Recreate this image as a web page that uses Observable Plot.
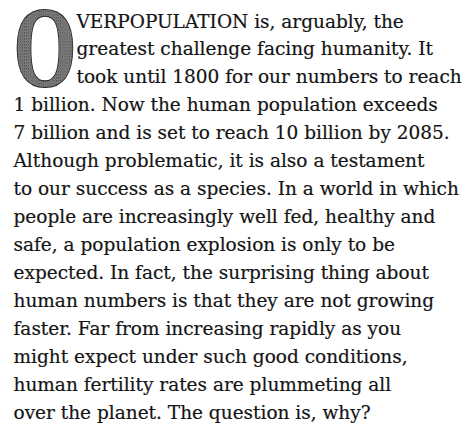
<!DOCTYPE html>
<html><head><meta charset="utf-8">
<script src="https://cdn.jsdelivr.net/npm/d3@7"></script>
<script src="https://cdn.jsdelivr.net/npm/@observablehq/plot@0.6"></script>
<style>html,body{margin:0;padding:0;background:#fff}</style>
</head><body><div id="chart"></div>
<script>
const dropCap = "O";
const lines = [
  "VERPOPULATION is, arguably, the",
  "greatest challenge facing humanity. It",
  "took until 1800 for our numbers to reach",
  "1 billion. Now the human population exceeds",
  "7 billion and is set to reach 10 billion by 2085.",
  "Although problematic, it is also a testament",
  "to our success as a species. In a world in which",
  "people are increasingly well fed, healthy and",
  "safe, a population explosion is only to be",
  "expected. In fact, the surprising thing about",
  "human numbers is that they are not growing",
  "faster. Far from increasing rapidly as you",
  "might expect under such good conditions,",
  "human fertility rates are plummeting all",
  "over the planet. The question is, why?"
];
const indentedLines = 3;

const rows = lines.map((t, i) => ({line: i, text: t, indent: i < indentedLines ? 1 : 0}));
const capRow = [{line: indentedLines - 1, indent: 0, text: dropCap}];

const chart = Plot.plot({
  width: 468, height: 425, margin: 0,
  style: {background: "#fff"},
  x: {domain: [0, 1], range: [13, 76], axis: null},
  y: {domain: [0, lines.length - 1], range: [27, 418], axis: null},
  marks: [
    Plot.text(capRow, {x: "indent", y: "line", text: "text", textAnchor: "start", lineAnchor: "bottom",
      fontSize: 114, fontFamily: "Liberation Serif", fontWeight: "bold",
      fill: "url(#halftone)", stroke: "#262626", strokeWidth: 2.2, dx: 0, dy: 3}),
    Plot.text(rows, {x: "indent", y: "line", text: "text", textAnchor: "start", lineAnchor: "bottom",
      fontSize: 18.5, fontFamily: "DejaVu Serif", fill: "#141414",
      stroke: "#141414", strokeWidth: 0.2})
  ]
});

const svg = d3.select(chart);
const defs = svg.insert("defs", ":first-child");
const pat = defs.append("pattern").attr("id", "halftone").attr("patternUnits", "userSpaceOnUse")
  .attr("width", 3).attr("height", 3);
pat.append("rect").attr("width", 3).attr("height", 3).attr("fill", "#808080");
pat.append("rect").attr("x", 0).attr("y", 0).attr("width", 1).attr("height", 1).attr("fill", "#333");
pat.append("rect").attr("x", 1.5).attr("y", 1.5).attr("width", 1).attr("height", 1).attr("fill", "#505050");
const cap = svg.select("g[aria-label=text] text");
cap.attr("transform", cap.attr("transform") + " scale(0.71,1)");

document.getElementById("chart").appendChild(chart);
</script>
</body></html>
